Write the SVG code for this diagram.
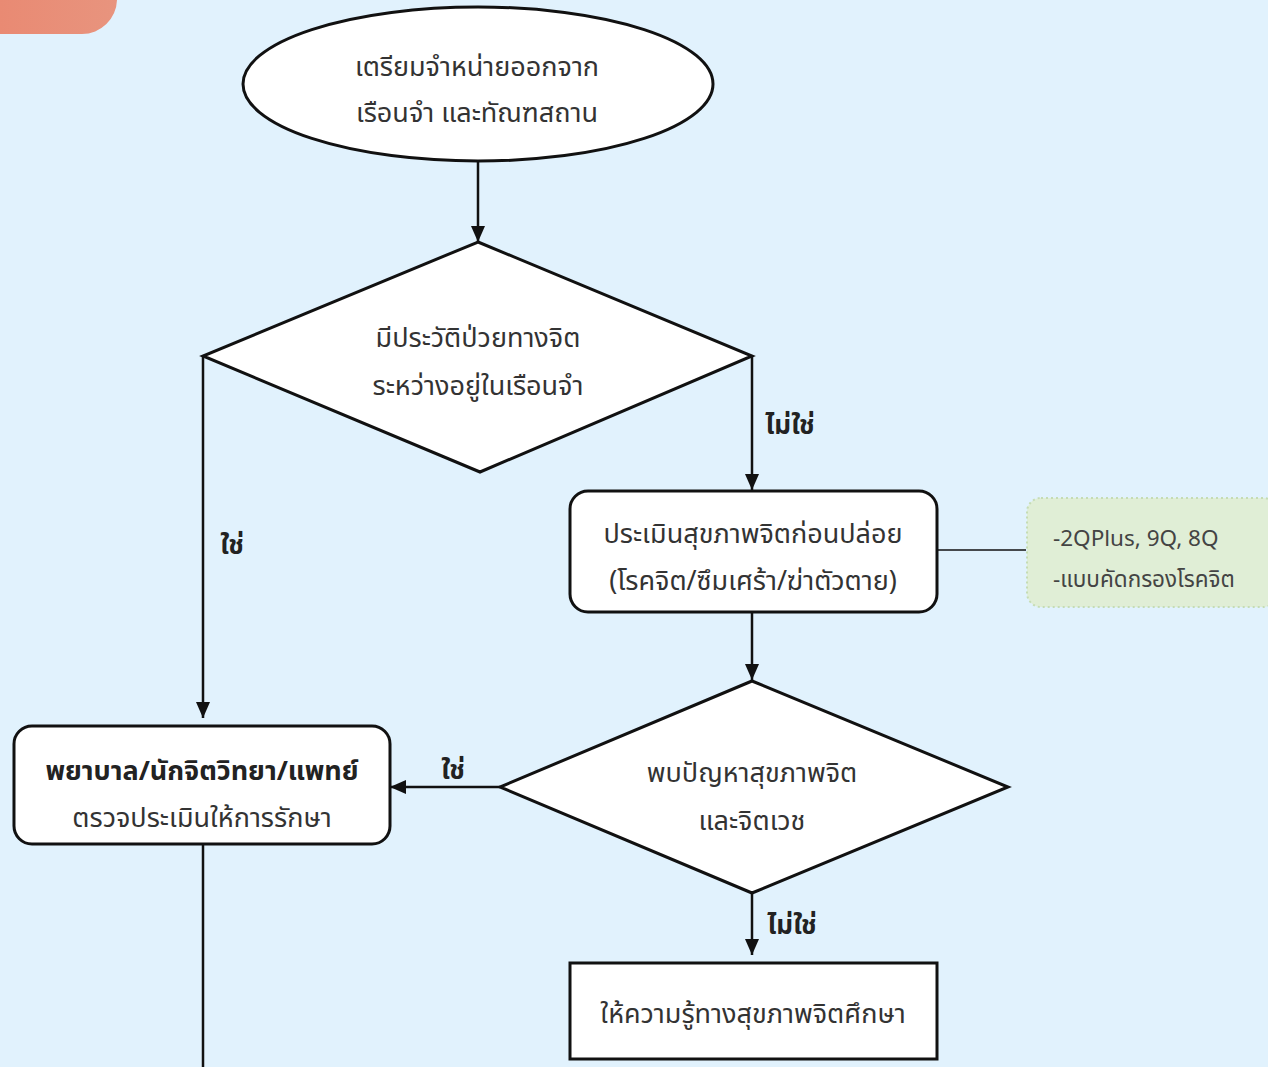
<svg xmlns="http://www.w3.org/2000/svg" width="1268" height="1067" viewBox="0 0 1268 1067">
<defs>
<marker id="ah" markerWidth="16" markerHeight="14" refX="16" refY="7" orient="auto" markerUnits="userSpaceOnUse" viewBox="0 0 16 14">
<path d="M0,0 L16,7 L0,14 z" fill="#111"/>
</marker>
<linearGradient id="og" x1="0" y1="0" x2="1" y2="0">
<stop offset="0" stop-color="#e98a73"/>
<stop offset="1" stop-color="#e8947e"/>
</linearGradient>
</defs>
<style>
.shape{fill:#fff;stroke:#111;stroke-width:3}
.t{font-family:"Noto Sans Thai","Noto Sans","DejaVu Sans",sans-serif;font-size:27px;fill:#333;text-anchor:middle}
.b{font-weight:bold;fill:#222}
.lbl{font-family:"Noto Sans Thai","Noto Sans","DejaVu Sans",sans-serif;font-size:26px;font-weight:bold;fill:#222}
.conn{stroke:#111;stroke-width:2.5;fill:none}
.note{font-family:"Noto Sans Thai","Noto Sans","DejaVu Sans",sans-serif;font-size:22.5px;fill:#444}
</style>
<rect width="1268" height="1067" fill="#e1f2fd"/>
<path d="M0,-10 H117 V0 A35,35 0 0 1 82,34 H0 Z" fill="url(#og)"/>

<g id="connectors">
<line class="conn" x1="478" y1="161" x2="478" y2="242" marker-end="url(#ah)"/>
<line class="conn" x1="203" y1="356" x2="203" y2="718" marker-end="url(#ah)"/>
<line class="conn" x1="752" y1="356" x2="752" y2="490" marker-end="url(#ah)"/>
<line class="conn" x1="937" y1="550" x2="1026" y2="550" style="stroke-width:1.5"/>
<line class="conn" x1="752" y1="612" x2="752" y2="680" marker-end="url(#ah)"/>
<line class="conn" x1="500" y1="787" x2="390" y2="787" marker-end="url(#ah)"/>
<line class="conn" x1="752" y1="893" x2="752" y2="955" marker-end="url(#ah)"/>
<line class="conn" x1="203" y1="844" x2="203" y2="1067"/>
<text class="lbl" x="232" y="554" text-anchor="middle">ใช่</text>
<text class="lbl" x="790" y="434" text-anchor="middle">ไม่ใช่</text>
<text class="lbl" x="453" y="779" text-anchor="middle">ใช่</text>
<text class="lbl" x="792" y="934" text-anchor="middle">ไม่ใช่</text>
</g>

<g id="start">
<ellipse class="shape" cx="478" cy="84" rx="235" ry="77"/>
<text class="t" x="477" y="76">เตรียมจำหน่ายออกจาก</text>
<text class="t" x="477" y="122">เรือนจำ และทัณฑสถาน</text>
</g>

<g id="decision1">
<polygon class="shape" points="478,242 752,356 480,472 203,356"/>
<text class="t" x="478" y="347">มีประวัติป่วยทางจิต</text>
<text class="t" x="478" y="395">ระหว่างอยู่ในเรือนจำ</text>
</g>

<g id="assess">
<rect class="shape" x="570" y="491" width="367" height="121" rx="18"/>
<text class="t" x="753" y="543">ประเมินสุขภาพจิตก่อนปล่อย</text>
<text class="t" x="753" y="590">(โรคจิต/ซึมเศร้า/ฆ่าตัวตาย)</text>
</g>

<g id="note">
<rect x="1027" y="498" width="250" height="109" rx="14" fill="#e0eed6" stroke="#c5dcb4" stroke-width="2" stroke-dasharray="2,3"/>
<text class="note" x="1053" y="546">-2QPlus, 9Q, 8Q</text>
<text class="note" x="1053" y="587">-แบบคัดกรองโรคจิต</text>
</g>

<g id="decision2">
<polygon class="shape" points="752,681 1008,787 752,893 500,787"/>
<text class="t" x="752" y="782">พบปัญหาสุขภาพจิต</text>
<text class="t" x="752" y="830">และจิตเวช</text>
</g>

<g id="treat">
<rect class="shape" x="14" y="726" width="376" height="118" rx="18"/>
<text class="t b" x="202" y="780">พยาบาล/นักจิตวิทยา/แพทย์</text>
<text class="t" x="202" y="827">ตรวจประเมินให้การรักษา</text>
</g>

<g id="educate">
<rect class="shape" x="570" y="963" width="367" height="96"/>
<text class="t" x="753" y="1023">ให้ความรู้ทางสุขภาพจิตศึกษา</text>
</g>
</svg>
